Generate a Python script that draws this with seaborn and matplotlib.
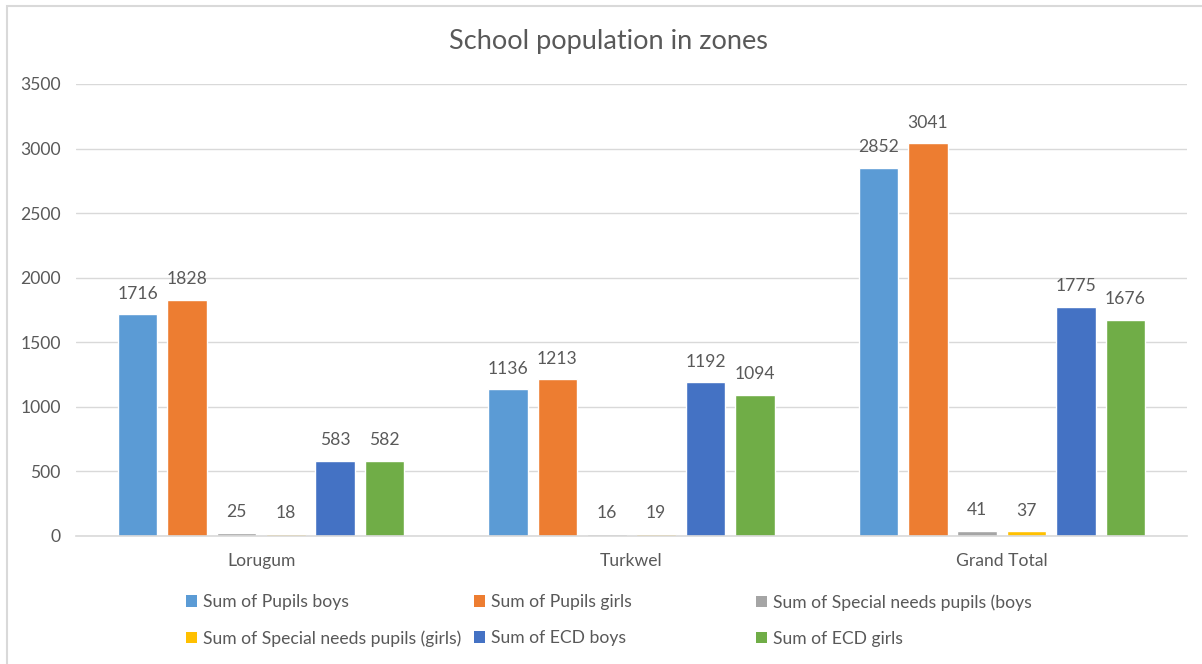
import matplotlib
matplotlib.use("Agg")
import matplotlib.pyplot as plt
from matplotlib.patches import Rectangle, Patch
import seaborn as sns
import pandas as pd

zones = ["Lorugum", "Turkwel", "Grand Total"]
series = [
    "Sum of Pupils boys",
    "Sum of Pupils girls",
    "Sum of Special needs pupils (boys",
    "Sum of Special needs pupils (girls)",
    "Sum of ECD boys",
    "Sum of ECD girls",
]
pupils_boys = [1716, 1136, 2852]
pupils_girls = [1828, 1213, 3041]
special_boys = [25, 16, 41]
special_girls = [18, 19, 37]
ecd_boys = [583, 1192, 1775]
ecd_girls = [582, 1094, 1676]
y_ticks = [0, 500, 1000, 1500, 2000, 2500, 3000, 3500]

colors = ["#5B9BD5", "#ED7D31", "#A5A5A5", "#FFC000", "#4472C4", "#70AD47"]
text_color = "#595959"
grid_color = "#D9D9D9"

values = [pupils_boys, pupils_girls, special_boys, special_girls, ecd_boys, ecd_girls]
rows = []
for name, vals in zip(series, values):
    for zone, v in zip(zones, vals):
        rows.append({"Zone": zone, "Series": name, "Value": v})
df = pd.DataFrame(rows)

sns.set_theme(style="white")
plt.rcParams["font.family"] = ["Lato", "DejaVu Sans"]
fs = 12.6

fig = plt.figure(figsize=(12.02, 6.64), dpi=100)
ax = fig.add_axes([76 / 1202, 1 - 536 / 664, (1187 - 76) / 1202, (536 - 84) / 664])

sns.barplot(data=df, x="Zone", y="Value", hue="Series", order=zones,
            hue_order=series, palette=colors, width=0.8, gap=0.2,
            saturation=1, ax=ax, legend=False)

for cont in ax.containers:
    ax.bar_label(cont, fmt="%d", padding=9, fontsize=fs, color=text_color)

ax.set_ylim(0, 3500)
ax.set_xlim(-0.5, 2.5)
ax.set_yticks(y_ticks)
ax.set_yticklabels([str(t) for t in y_ticks], fontsize=fs, color=text_color)
ax.tick_params(axis="y", length=0, pad=11)
ax.tick_params(axis="x", length=0, pad=12, labelsize=fs, labelcolor=text_color)
ax.set_xlabel("")
ax.set_ylabel("")
ax.yaxis.grid(True, color=grid_color, linewidth=1)
ax.set_axisbelow(True)
for side in ["top", "right", "left"]:
    ax.spines[side].set_visible(False)
ax.spines["bottom"].set_color(grid_color)
ax.spines["bottom"].set_linewidth(1.2)

fig.suptitle("School population in zones", x=(450 + 767) / 2 / 1202,
             y=1 - 42 / 664, va="center", fontsize=19.5, color=text_color)

# Legend laid out as three evenly spaced columns, filled row by row
handles = [Patch(facecolor=c, edgecolor="none", label=s) for c, s in zip(colors, series)]
col_x = [186, 474, 756]
for col, x in enumerate(col_x):
    idx = [col, col + 3]
    leg = fig.legend([handles[i] for i in idx], [series[i] for i in idx],
                     loc="upper left", bbox_to_anchor=(x / 1202, 1 - 594 / 664),
                     borderaxespad=0, borderpad=0,
                     frameon=False, fontsize=fs, labelcolor=text_color,
                     handlelength=0.65, handleheight=0.65, handletextpad=0.3,
                     labelspacing=1.15)

fig.patches.append(Rectangle((7 / 1202, -0.1), 1.2, 1.1 - 6 / 664,
                             transform=fig.transFigure, fill=False,
                             edgecolor=grid_color, linewidth=1.5))

fig.savefig("out.png", dpi=100)
